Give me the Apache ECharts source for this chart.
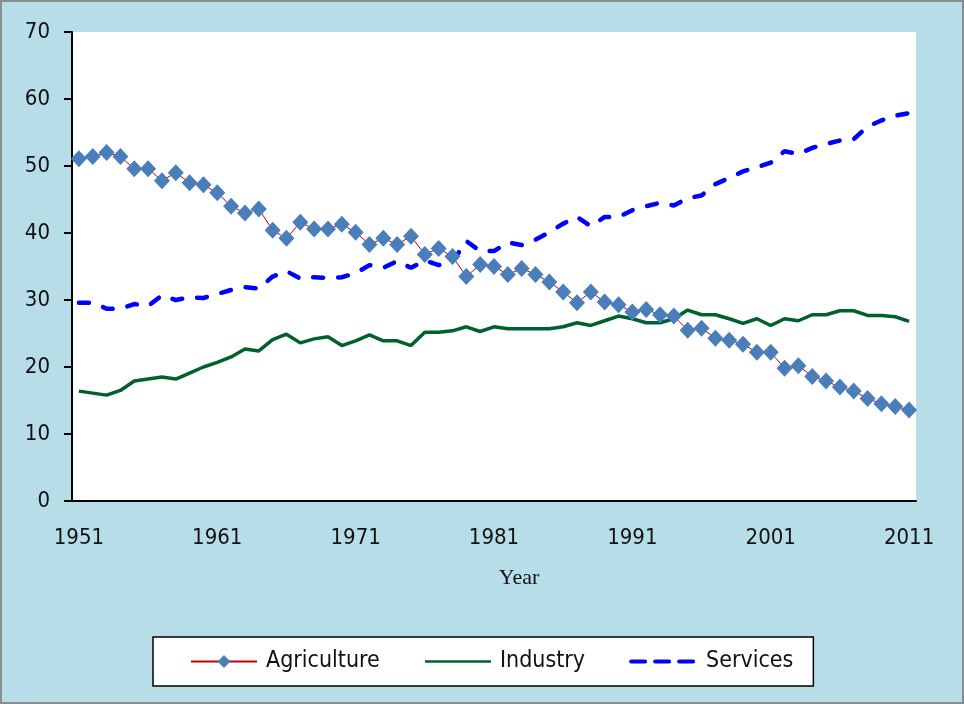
<!DOCTYPE html>
<html>
<head>
<meta charset="utf-8">
<script src="https://cdn.jsdelivr.net/npm/echarts@6/dist/echarts.min.js"></script>
<style>
  html, body { margin: 0; padding: 0; }
  #chart { width: 964px; height: 704px; }
</style>
</head>
<body>
<div id="chart"></div>
<script>
// years 1951 .. 2011
var years = []
for (var y = 1951; y <= 2011; y++) years.push(String(y))

// sector shares, percent
var agriculture = [
  51.1, 51.4, 52.0, 51.4, 49.6, 49.6, 47.8, 49.0, 47.5, 47.2,
  46.0, 44.0, 43.0, 43.6, 40.4, 39.2, 41.6, 40.6, 40.6, 41.3,
  40.1, 38.3, 39.2, 38.3, 39.5, 36.8, 37.7, 36.5, 33.5, 35.3,
  35.0, 33.8, 34.7, 33.8, 32.7, 31.2, 29.6, 31.2, 29.7, 29.3,
  28.2, 28.6, 27.8, 27.6, 25.5, 25.8, 24.3, 24.0, 23.4, 22.2,
  22.2, 19.8, 20.2, 18.6, 17.9, 17.0, 16.4, 15.3, 14.5, 14.1,
  13.6
]
var industry = [
  16.4, 16.1, 15.8, 16.5, 17.9, 18.2, 18.5, 18.2, 19.1, 20.0,
  20.7, 21.5, 22.7, 22.4, 24.1, 24.9, 23.6, 24.2, 24.5, 23.2,
  23.9, 24.8, 23.9, 23.9, 23.2, 25.2, 25.2, 25.4, 26.0, 25.3,
  26.0, 25.7, 25.7, 25.7, 25.7, 26.0, 26.6, 26.2, 26.9, 27.6,
  27.2, 26.6, 26.6, 27.2, 28.5, 27.8, 27.8, 27.2, 26.5, 27.2,
  26.2, 27.2, 26.9, 27.8, 27.8, 28.4, 28.4, 27.7, 27.7, 27.5,
  26.8
]
var services = [
  29.6, 29.6, 28.7, 28.7, 29.4, 29.1, 30.7, 30.0, 30.4, 30.3,
  30.9, 31.5, 31.9, 31.7, 33.5, 34.3, 33.2, 33.4, 33.3, 33.4,
  34.0, 35.2, 34.8, 35.8, 34.8, 35.9, 35.2, 35.7, 38.8, 37.3,
  37.3, 38.6, 38.2, 39.0, 40.1, 41.4, 42.4, 41.0, 42.4, 42.4,
  43.4, 44.0, 44.5, 44.1, 45.2, 45.6, 47.3, 48.2, 49.2, 49.8,
  50.5, 52.2, 51.8, 52.7, 53.3, 53.8, 54.0, 55.9, 56.8, 57.5,
  57.9
]

var axisFont = '"DejaVu Sans Condensed", "DejaVu Sans", sans-serif'

var chart = echarts.init(document.getElementById('chart'))
var option = {
  backgroundColor: '#B7DEE8',
  animation: false,
  graphic: [{
    type: 'rect',
    shape: { x: 1, y: 1, width: 962, height: 702 },
    style: { fill: 'none', stroke: '#8c8c8c', lineWidth: 2 },
    silent: true
  }],
  grid: {
    left: 72, right: 48, top: 32, bottom: 203,
    show: true, backgroundColor: '#fff', borderWidth: 0
  },
  legend: {
    left: 153, top: 637,
    padding: [13, 20, 13, 37],
    itemGap: 44,
    itemWidth: 66, itemHeight: 16,
    backgroundColor: '#fff',
    borderColor: '#000', borderWidth: 1.5,
    textStyle: { fontFamily: axisFont, fontSize: 23, color: '#111', padding: [0, 0, 0, 4] },
    data: [
      'Agriculture',
      { name: 'Industry', itemStyle: { opacity: 0 }, lineStyle: { width: 2.5 } },
      { name: 'Services', itemStyle: { opacity: 0 }, lineStyle: { width: 4, type: [14, 10] } }
    ]
  },
  xAxis: {
    type: 'category',
    data: years,
    boundaryGap: true,
    name: 'Year',
    nameLocation: 'middle',
    nameGap: 66,
    nameTextStyle: { fontFamily: '"Liberation Serif", serif', fontSize: 22, color: '#111', padding: [0, 0, 0, 50] },
    axisLine: { lineStyle: { color: '#000', width: 2 } },
    axisTick: { interval: 9, length: 7, lineStyle: { color: '#000', width: 2 } },
    axisLabel: { interval: 9, margin: 26, fontFamily: axisFont, fontSize: 22, color: '#111' },
    splitLine: { show: false }
  },
  yAxis: {
    type: 'value',
    min: 0, max: 70, interval: 10,
    axisLine: { show: true, lineStyle: { color: '#000', width: 2 } },
    axisTick: { show: true, length: 8, lineStyle: { color: '#000', width: 2 } },
    axisLabel: { margin: 22, fontFamily: axisFont, fontSize: 22, color: '#111' },
    splitLine: { show: false }
  },
  series: [
    {
      name: 'Agriculture',
      type: 'line',
      data: agriculture,
      symbol: 'diamond',
      symbolSize: [16, 17],
      showAllSymbol: true,
      itemStyle: { color: '#4A7EBB' },
      lineStyle: { color: '#C00000', width: 1 },
      z: 3
    },
    {
      name: 'Industry',
      type: 'line',
      data: industry,
      symbol: 'none',
      itemStyle: { color: '#00612E' },
      lineStyle: { color: '#00612E', width: 3.5 },
      z: 2
    },
    {
      name: 'Services',
      type: 'line',
      data: services,
      symbol: 'none',
      itemStyle: { color: '#0000FF' },
      lineStyle: { color: '#0000FF', width: 4.5, type: [10, 15], cap: 'round' },
      z: 2
    }
  ]
}
chart.setOption(option)
</script>
</body>
</html>
